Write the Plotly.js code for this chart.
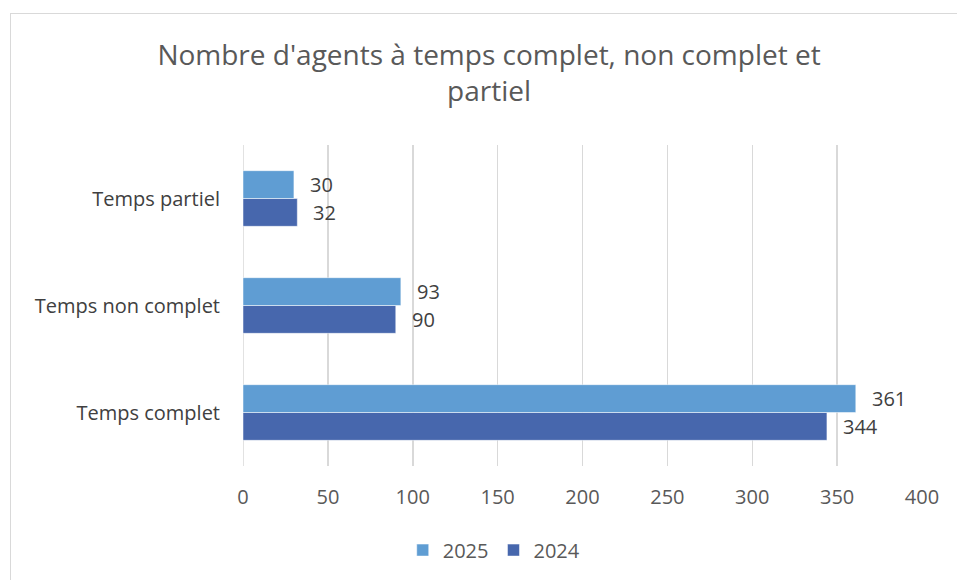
<!DOCTYPE html>
<html><head><meta charset="utf-8">
<script src="https://cdn.plot.ly/plotly-3.0.1.min.js"></script>
<style>
html,body{margin:0;padding:0;background:#fff;}
#wrap{position:relative;width:957px;height:580px;overflow:hidden;}
#frame{position:absolute;left:10px;top:13px;width:950px;height:600px;border:1.5px solid #d9d9d9;box-sizing:border-box;pointer-events:none;}
#chart{position:absolute;left:0;top:0;width:957px;height:580px;}
</style></head>
<body><div id="wrap"><div id="chart"></div><div id="frame"></div></div>
<script>
const categories = ['Temps complet', 'Temps non complet', 'Temps partiel'];
const values2025 = [361, 93, 30];
const values2024 = [344, 90, 32];
const seriesNames = ['2024', '2025'];
const tickVals = [0, 50, 100, 150, 200, 250, 300, 350, 400];

const FONT = '"Open Sans", sans-serif';
const traces = [
  {type:'bar', orientation:'h', name:seriesNames[0], y:categories, x:values2024,
   marker:{color:'#4767ad', line:{color:'#ffffff', width:0.5}}, hoverinfo:'x'},
  {type:'bar', orientation:'h', name:seriesNames[1], y:categories, x:values2025,
   marker:{color:'#5f9dd3', line:{color:'#ffffff', width:0.5}}, hoverinfo:'x'}
];

const annotations = [];
[values2024, values2025].forEach((vals, ti) => {
  vals.forEach((v, i) => {
    annotations.push({x:v, y:categories[i], xref:'x', yref:'y', text:String(v),
      showarrow:false, xanchor:'left', xshift:14, yshift: ti===0 ? -14 : 14,
      font:{family:FONT, size:20, color:'#404040'}});
  });
});

const layout = {
  width:957, height:580,
  margin:{l:243, r:35, t:145, b:113},
  paper_bgcolor:'#ffffff', plot_bgcolor:'#ffffff',
  title:{text:"Nombre d'agents à temps complet, non complet et<br>partiel",
    font:{family:FONT, size:28, color:'#595959', weight:400}, x:0.511, xanchor:'center', y:0.888, yanchor:'top'},
  barmode:'group', bargap:0.48, bargroupgap:0,
  xaxis:{range:[0,400], tickvals:tickVals, showgrid:true, gridcolor:'#d9d9d9', gridwidth:1.5,
    zeroline:false, showline:false, ticks:'', ticklabelstandoff:17,
    tickfont:{family:FONT, size:20, color:'#595959'}, fixedrange:true},
  yaxis:{showgrid:false, zeroline:false, showline:false, ticks:'', ticklabelstandoff:22,
    tickfont:{family:FONT, size:20, color:'#404040'}, fixedrange:true},
  showlegend:true,
  legend:{orientation:'h', x:0.37, xanchor:'center', y:-0.258, yanchor:'middle',
    traceorder:'reversed', font:{family:FONT, size:20, color:'#595959'}, itemwidth:30},
  annotations:annotations,
  shapes:[{type:'line', xref:'x', yref:'paper', x0:0, x1:0, y0:0, y1:1, line:{color:'#d9d9d9', width:1.5}, layer:'below'}]
};
Plotly.newPlot('chart', traces, layout, {displayModeBar:false, staticPlot:true});
</script></body></html>
